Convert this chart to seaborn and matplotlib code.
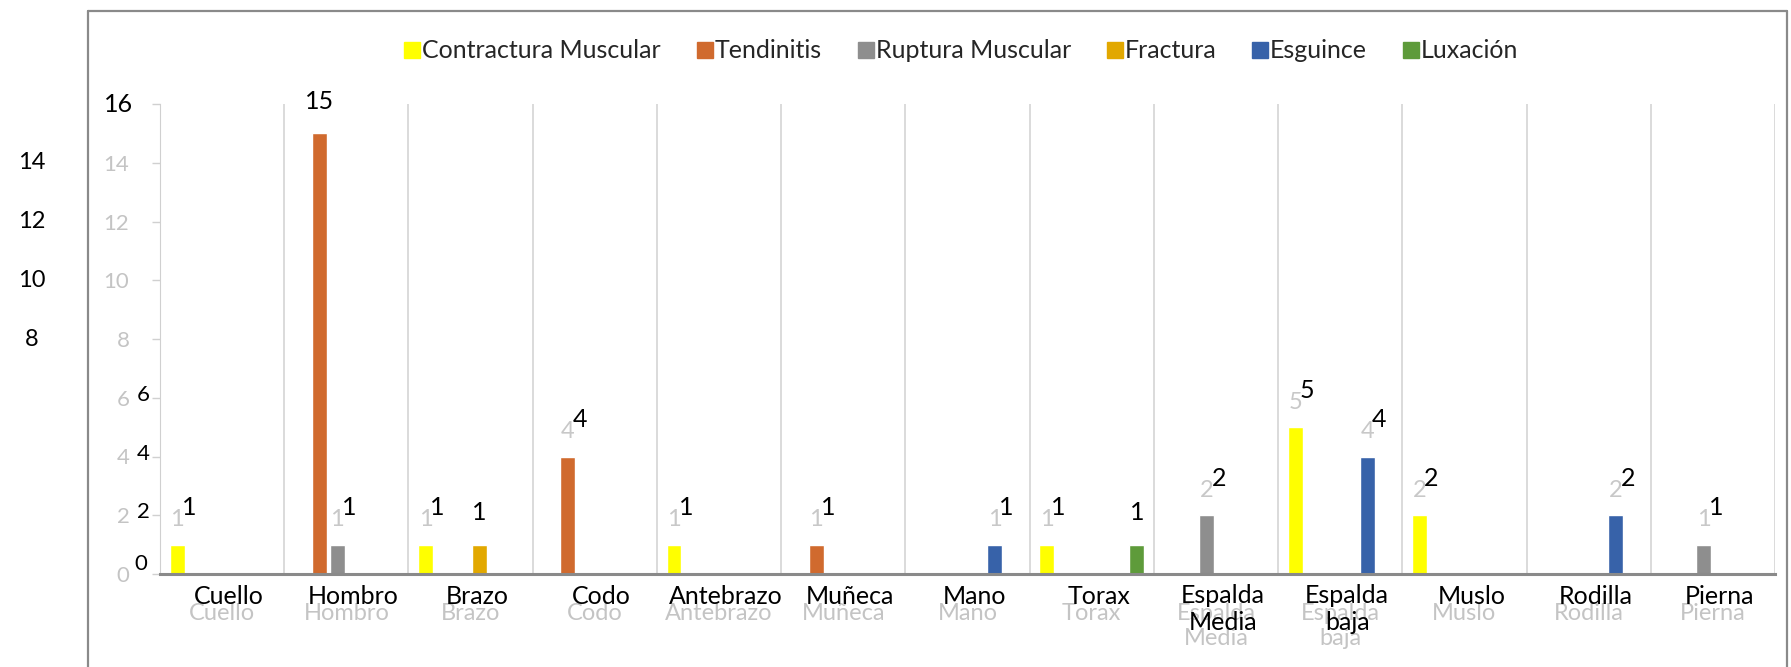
import matplotlib
matplotlib.use("Agg")
import matplotlib.pyplot as plt
import seaborn as sns
import pandas as pd
from matplotlib.lines import Line2D
from matplotlib.transforms import blended_transform_factory

categories = ["Cuello", "Hombro", "Brazo", "Codo", "Antebrazo", "Muñeca", "Mano",
              "Torax", "Espalda\nMedia", "Espalda\nbaja", "Muslo", "Rodilla", "Pierna"]
series_names = ["Contractura Muscular", "Tendinitis", "Ruptura Muscular",
                "Fractura", "Esguince", "Luxación"]
contractura = [1, 0, 1, 0, 1, 0, 0, 1, 0, 5, 2, 0, 0]
tendinitis = [0, 15, 0, 4, 0, 1, 0, 0, 0, 0, 0, 0, 0]
ruptura = [0, 1, 0, 0, 0, 0, 0, 0, 2, 0, 0, 0, 1]
fractura = [0, 0, 1, 0, 0, 0, 0, 0, 0, 0, 0, 0, 0]
esguince = [0, 0, 0, 0, 0, 0, 1, 0, 0, 4, 0, 2, 0]
luxacion = [0, 0, 0, 0, 0, 0, 0, 1, 0, 0, 0, 0, 0]
yticks = [0, 2, 4, 6, 8, 10, 12, 14, 16]

colors = ["#FFFF00", "#D06A2E", "#8E8E8E", "#E2A800", "#3762A9", "#5E9B3A"]

all_values = [contractura, tendinitis, ruptura, fractura, esguince, luxacion]
rows = []
for name, vals in zip(series_names, all_values):
    for cat, v in zip(categories, vals):
        rows.append({"Zona": cat, "Lesion": name, "Casos": v})
df = pd.DataFrame(rows)

sns.set_style("white")
plt.rcParams['font.family'] = ['Lato', 'DejaVu Sans']

fig = plt.figure(figsize=(17.91, 6.67), dpi=100)
ax = fig.add_axes([160 / 1791, 93 / 667, 1615 / 1791, 470 / 667])

sns.barplot(data=df, x="Zona", y="Casos", hue="Lesion", order=categories,
            hue_order=series_names, palette=colors, width=0.87, gap=0.17,
            legend=False, ax=ax, saturation=1)

ax.set_xlim(-0.5, len(categories) - 0.5)
ax.set_ylim(0, 16)
ax.set_yticks(yticks)
ax.set_yticklabels([str(t) if t != 16 else "" for t in yticks])
ax.set_xlabel("")
ax.set_ylabel("")

# separators between categories
for k in range(len(categories) + 1):
    ax.axvline(k - 0.5, ymin=0, ymax=1, color="#d4d4d4", lw=1.2, zorder=0)

for s in ["top", "right"]:
    ax.spines[s].set_visible(False)
ax.spines["left"].set_color("#d0d0d0")
ax.spines["bottom"].set_color("#8a8a8a")
ax.spines["bottom"].set_linewidth(2.2)

# faint duplicated tick labels
ax.tick_params(axis="y", colors="#d0d0d0", labelcolor="#c4c4c4", labelsize=16,
               length=6, width=1, direction="out", pad=16, left=True)
ax.tick_params(axis="x", labelcolor="#c4c4c4", labelsize=17, length=0, pad=21)

# black overlay category labels
for i, cat in enumerate(categories):
    multi = "\n" in cat
    ax.annotate(cat, xy=(i, 0), xycoords=("data", "axes fraction"),
                xytext=(7, -10 if multi else -22), textcoords="offset pixels", ha="center",
                va="top" if multi else "center", fontsize=18, color="black",
                linespacing=1.2)

# data labels: faint copy on the bar, black copy shifted
ymax = max(max(v) for v in all_values)
for name, cont in zip(series_names, ax.containers):
    plain = name in ("Fractura", "Luxación")
    for bar in cont:
        h = bar.get_height()
        if h <= 0:
            continue
        xc = bar.get_x() + bar.get_width() / 2
        if plain or h == ymax:
            ax.annotate(f"{int(h)}", xy=(xc, h), xytext=(0, 32), textcoords="offset pixels",
                        ha="center", va="center", fontsize=18, color="black")
            continue
        ax.annotate(f"{int(h)}", xy=(xc, h), xytext=(0, 25), textcoords="offset pixels",
                    ha="center", va="center", fontsize=17, color="#c8c8c8")
        ax.annotate(f"{int(h)}", xy=(xc, h), xytext=(12, 37), textcoords="offset pixels",
                    ha="center", va="center", fontsize=18, color="black")

# black overlay y labels scattered on the left
tr = blended_transform_factory(fig.transFigure, ax.transData)
for t in [14, 12, 10, 8]:
    ax.text(32 / 1791, t, str(t), transform=tr, ha="center", va="center",
            fontsize=17, color="black")
ax.text(119 / 1791, 16, "16", transform=tr, ha="center", va="center",
        fontsize=18, color="black")
for t in [6, 4, 2]:
    ax.text(143 / 1791, t + 0.1, str(t), transform=tr, ha="center", va="center",
            fontsize=16, color="black")
ax.text(141 / 1791, 0.35, "0", transform=tr, ha="center", va="center",
        fontsize=16, color="black")

# legend
handles = [Line2D([0], [0], marker="s", linestyle="none", markersize=11,
                  markerfacecolor=c, markeredgecolor=c) for c in colors]
fig.legend(handles, series_names, loc="center", bbox_to_anchor=(961 / 1791, 1 - 51 / 667),
           ncol=6, frameon=False, fontsize=18, handletextpad=0.05, columnspacing=1.4,
           handlelength=0.7)

# outer frame
frame_kw = dict(color="#8a8a8a", lw=1.6, transform=fig.transFigure)
fig.add_artist(Line2D([88 / 1791, 88 / 1791], [0, 1 - 11 / 667], **frame_kw))
fig.add_artist(Line2D([88 / 1791, 1787 / 1791], [1 - 11 / 667, 1 - 11 / 667], **frame_kw))
fig.add_artist(Line2D([1787 / 1791, 1787 / 1791], [0, 1 - 11 / 667], **frame_kw))

fig.savefig("out.png", dpi=100)
